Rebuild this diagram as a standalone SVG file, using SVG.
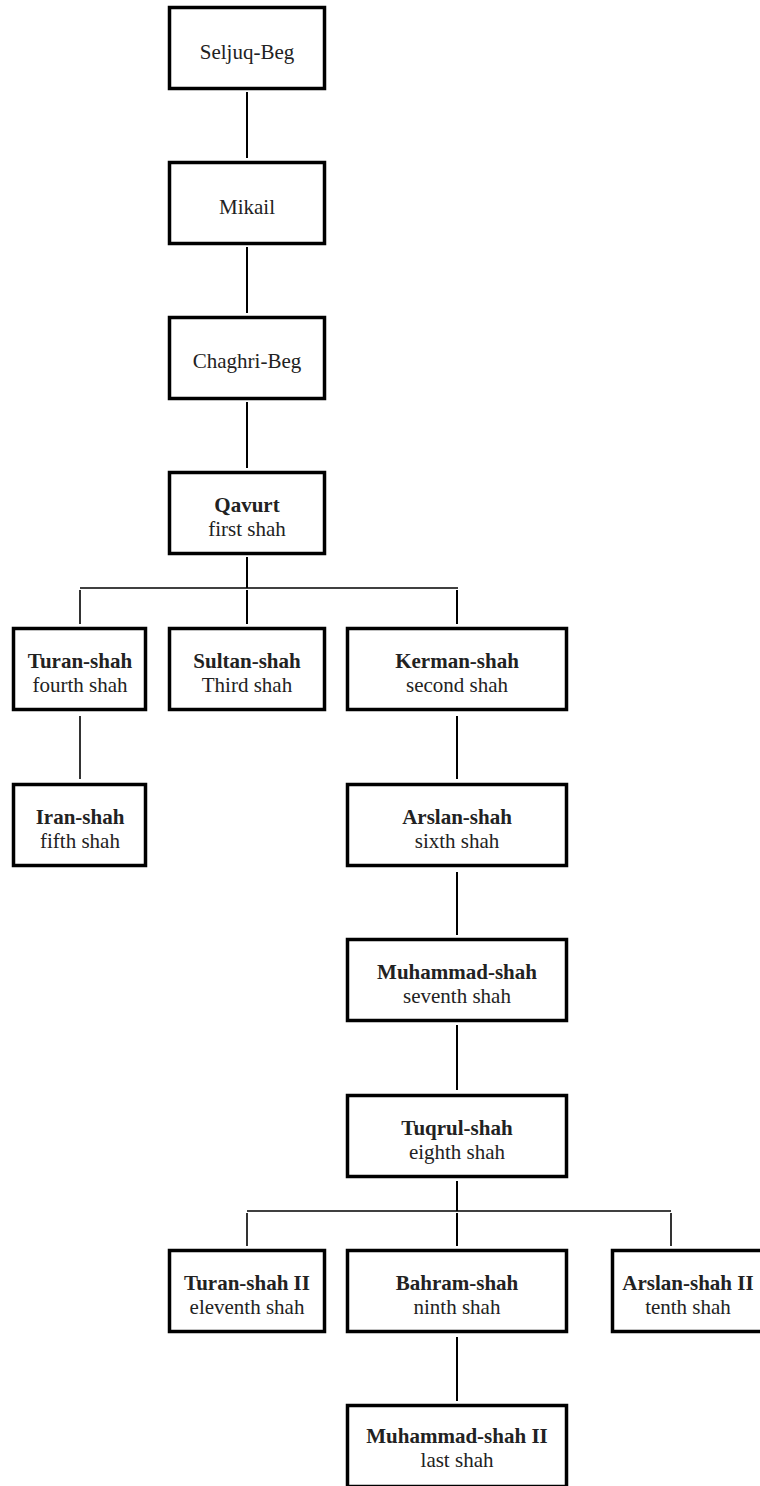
<svg xmlns="http://www.w3.org/2000/svg" width="760" height="1486" viewBox="0 0 760 1486">
<style>
.box{fill:#fff;stroke:#000;stroke-width:3.5}
.c{stroke:#000;stroke-width:2;fill:none}
.h{stroke:#000;stroke-width:1.6;fill:none}
text{font-size:21px;fill:#222;text-anchor:middle}
.b{font-weight:bold}
</style>
<rect width="760" height="1486" fill="#fff"/>
<g id="connectors">
<line class="c" x1="247" y1="92" x2="247" y2="158"/>
<line class="c" x1="247" y1="247" x2="247" y2="313"/>
<line class="c" x1="247" y1="402" x2="247" y2="468"/>
<line class="c" x1="247" y1="557" x2="247" y2="588"/>
<line class="h" x1="80" y1="588" x2="458" y2="588"/>
<line class="h" x1="80" y1="590" x2="80" y2="624"/>
<line class="c" x1="247" y1="590" x2="247" y2="624"/>
<line class="c" x1="457" y1="590" x2="457" y2="624"/>
<line class="h" x1="80" y1="716" x2="80" y2="779"/>
<line class="c" x1="457" y1="716" x2="457" y2="779"/>
<line class="c" x1="457" y1="872" x2="457" y2="935"/>
<line class="c" x1="457" y1="1025" x2="457" y2="1090"/>
<line class="c" x1="457" y1="1181" x2="457" y2="1211"/>
<line class="h" x1="247" y1="1211" x2="671" y2="1211"/>
<line class="h" x1="247" y1="1213" x2="247" y2="1246"/>
<line class="c" x1="457" y1="1213" x2="457" y2="1246"/>
<line class="h" x1="671" y1="1213" x2="671" y2="1246"/>
<line class="c" x1="457" y1="1337" x2="457" y2="1401"/>
</g>
<g font-family="'Liberation Serif', 'Times New Roman', 'DejaVu Serif', serif">
<g id="seljuq"><rect class="box" x="169.5" y="7.5" width="155" height="81"/><text x="247" y="59">Seljuq-Beg</text></g>
<g id="mikail"><rect class="box" x="169.5" y="162.5" width="155" height="81"/><text x="247" y="214">Mikail</text></g>
<g id="chaghri"><rect class="box" x="169.5" y="317.5" width="155" height="81"/><text x="247" y="368">Chaghri-Beg</text></g>
<g id="qavurt"><rect class="box" x="169.5" y="472.5" width="155" height="81"/><text class="b" x="247" y="512">Qavurt</text><text x="247" y="536">first shah</text></g>
<g id="turan"><rect class="box" x="13.5" y="628.5" width="132" height="81"/><text class="b" x="80" y="668">Turan-shah</text><text x="80" y="692">fourth shah</text></g>
<g id="sultan"><rect class="box" x="169.5" y="628.5" width="155" height="81"/><text class="b" x="247" y="668">Sultan-shah</text><text x="247" y="692">Third shah</text></g>
<g id="kerman"><rect class="box" x="347.5" y="628.5" width="219" height="81"/><text class="b" x="457" y="668">Kerman-shah</text><text x="457" y="692">second shah</text></g>
<g id="iran"><rect class="box" x="13.5" y="784.5" width="132" height="81"/><text class="b" x="80" y="824">Iran-shah</text><text x="80" y="848">fifth shah</text></g>
<g id="arslan"><rect class="box" x="347.5" y="784.5" width="219" height="81"/><text class="b" x="457" y="824">Arslan-shah</text><text x="457" y="848">sixth shah</text></g>
<g id="muhammad"><rect class="box" x="347.5" y="939.5" width="219" height="81"/><text class="b" x="457" y="979">Muhammad-shah</text><text x="457" y="1003">seventh shah</text></g>
<g id="tuqrul"><rect class="box" x="347.5" y="1095.5" width="219" height="81"/><text class="b" x="457" y="1135">Tuqrul-shah</text><text x="457" y="1159">eighth shah</text></g>
<g id="turan2"><rect class="box" x="169.5" y="1250.5" width="155" height="81"/><text class="b" x="247" y="1290">Turan-shah II</text><text x="247" y="1314">eleventh shah</text></g>
<g id="bahram"><rect class="box" x="347.5" y="1250.5" width="219" height="81"/><text class="b" x="457" y="1290">Bahram-shah</text><text x="457" y="1314">ninth shah</text></g>
<g id="arslan2"><rect class="box" x="612.5" y="1250.5" width="155" height="81"/><text class="b" x="688" y="1290">Arslan-shah II</text><text x="688" y="1314">tenth shah</text></g>
<g id="muhammad2"><rect class="box" x="347.5" y="1405.5" width="219" height="81"/><text class="b" x="457" y="1443">Muhammad-shah II</text><text x="457" y="1467">last shah</text></g>
</g>
</svg>
